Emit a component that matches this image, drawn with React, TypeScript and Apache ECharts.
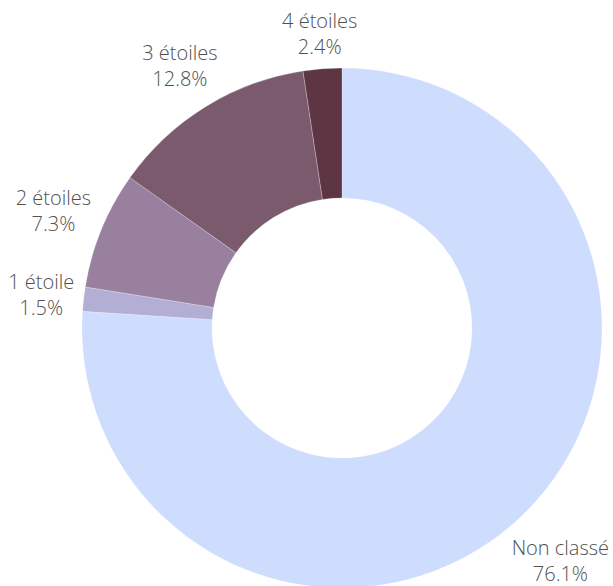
import React, { useEffect, useRef } from "react";
import * as echarts from "echarts";

const categories = ["Non classé", "1 étoile", "2 étoiles", "3 étoiles", "4 étoiles"];
const values = [76.1, 1.5, 7.3, 12.8, 2.4];
const colors = ["#cedcfd", "#b3aed4", "#98809e", "#7c5a6e", "#5e3543"];

const CX = 342;
const CY = 328;
const R_IN = 130;
const R_OUT = 260;
const GAP = 7;

export default function App() {
  const ref = useRef<HTMLDivElement>(null);
  useEffect(() => {
    document.body.style.margin = "0";
    const chart = echarts.init(ref.current!, undefined, { renderer: "svg" });
    const total = values.reduce((a, b) => a + b, 0);
    const mids: number[] = [];
    let acc = 0;
    values.forEach((v) => {
      mids.push(((acc + v / 2) / total) * Math.PI * 2);
      acc += v;
    });
    chart.setOption({
      animation: false,
      series: [
        {
          type: "pie",
          center: [CX, CY],
          radius: [R_IN, R_OUT],
          startAngle: 90,
          clockwise: true,
          avoidLabelOverlap: false,
          data: categories.map((c, i) => ({
            name: c,
            value: values[i],
            itemStyle: { color: colors[i] },
          })),
          itemStyle: { borderColor: "rgba(255,255,255,0.5)", borderWidth: 0.5 },
          label: {
            show: true,
            position: "outside",
            formatter: (p: any) => `${p.name}\n${p.value.toFixed(1)}%`,
            fontFamily: "Open Sans",
            fontWeight: 300,
            fontSize: 20,
            lineHeight: 26,
            color: "#505050",
          },
          labelLine: { show: false },
          labelLayout: (params: any) => {
            const a = mids[params.dataIndex];
            const dx = Math.sin(a);
            const dy = -Math.cos(a);
            const w = params.labelRect.width;
            const h = params.labelRect.height;
            const R = R_OUT + GAP + Math.abs(dx) * w / 2 + Math.abs(dy) * h / 2;
            return {
              x: CX + dx * R,
              y: CY + dy * R,
              align: "center",
              verticalAlign: "middle",
            };
          },
          emphasis: { disabled: true },
        },
      ],
    });
    return () => chart.dispose();
  }, []);
  return <div ref={ref} style={{ width: 613, height: 586 }} />;
}
